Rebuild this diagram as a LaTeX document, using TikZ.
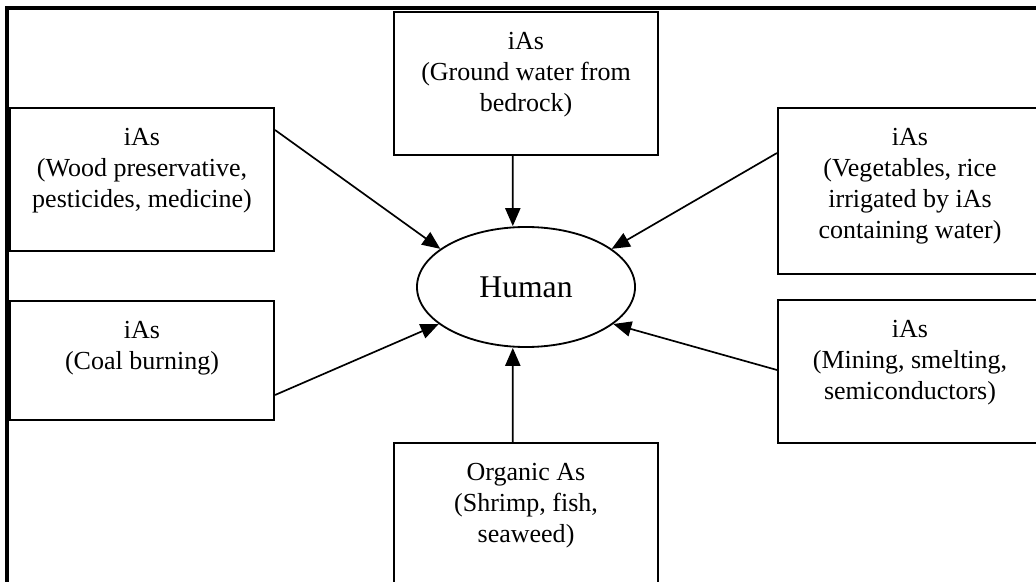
\documentclass[tikz,border=0pt]{standalone}
\usepackage{fontspec}
\setmainfont{Liberation Serif}
\usetikzlibrary{arrows.meta,positioning,shapes.geometric,calc}
\newcommand{\srctxt}[2]{\parbox[c][#1][t]{6.6cm}{\centering\rule{0pt}{27pt}#2}}

\begin{document}
\begin{tikzpicture}[x=0.025cm, y=-0.025cm,
    src/.style={draw, line width=1.4pt, inner sep=0pt, anchor=north west, font=\fontsize{18.5}{22}\selectfont},
    feed/.style={-{Triangle[length=0.45cm,width=0.38cm]}, line width=1.2pt}]
    \useasboundingbox (0,0) rectangle (1036,582);
    \clip (0,0) rectangle (1036,582);

    % Outer frame
    \draw[line width=2.2pt] (7,600) -- (7,8) -- (1050,8);

    % Sources
    \node[src] (wood) at (9,107) {\srctxt{3.575cm}{iAs\\(Wood preservative,\\pesticides, medicine)}};
    \node[src] (ground) at (393,11) {\srctxt{3.575cm}{iAs\\(Ground water from\\bedrock)}};
    \node[src] (veg) at (777,107) {\srctxt{4.15cm}{iAs\\(Vegetables, rice\\irrigated by iAs\\containing water)}};
    \node[src] (coal) at (9,300) {\srctxt{2.975cm}{iAs\\(Coal burning)}};
    \node[src] (mining) at (777,299) {\srctxt{3.575cm}{iAs\\(Mining, smelting,\\semiconductors)}};
    \node[src] (sea) at (393,442) {\srctxt{4cm}{Organic As\\(Shrimp, fish,\\seaweed)}};

    % Human
    \node[draw, ellipse, line width=1.3pt, minimum width=5.45cm, minimum height=3cm, inner sep=0pt,
        font=\fontsize{22.5}{27}\selectfont] (human) at (526,287) {Human};

    % Exposure arrows
    \draw[feed] ($(wood.north east)+(0,23)$) -- (human.156);
    \draw[feed] ([xshift=-0.33cm]ground.south) -- ([xshift=-0.33cm]human.north);
    \draw[feed] ($(veg.north west)+(0,46)$) -- (human.24);
    \draw[feed] ($(coal.south east)+(0,-26)$) -- (human.203);
    \draw[feed] ($(mining.north west)+(0,71)$) -- (human.337);
    \draw[feed] ([xshift=-0.33cm]sea.north) -- ([xshift=-0.33cm]human.south);
\end{tikzpicture}
\end{document}
